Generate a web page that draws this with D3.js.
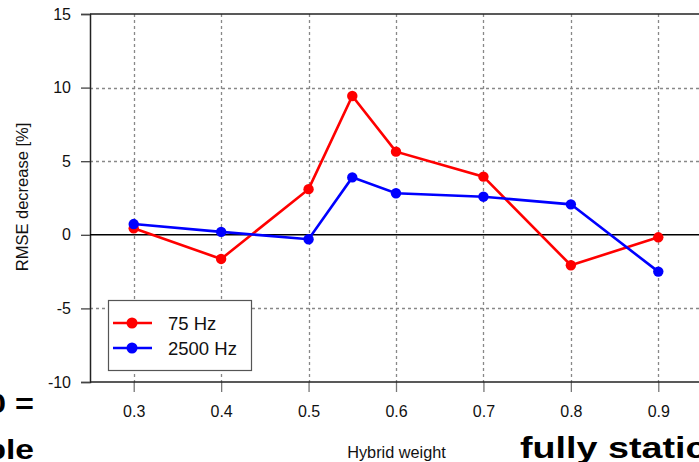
<!DOCTYPE html>
<html><head><meta charset="utf-8">
<script src="https://cdn.jsdelivr.net/npm/d3@7"></script>
<style>body{margin:0;background:#fff}svg{display:block;font-family:"Liberation Sans",Arial,sans-serif}</style>
</head><body><div id="c"></div>
<script>
const weights = [0.3, 0.4, 0.5, 0.55, 0.6, 0.7, 0.8, 0.9];
const hz75 = [0.44, -1.64, 3.1, 9.43, 5.65, 3.95, -2.07, -0.17];
const hz2500 = [0.73, 0.2, -0.3, 3.9, 2.82, 2.59, 2.07, -2.5];
const seriesNames = ["75 Hz", "2500 Hz"];
const seriesColors = ["#ff0000", "#0000ff"];
const xTicks = [0.3, 0.4, 0.5, 0.6, 0.7, 0.8, 0.9];
const yTicks = [-10, -5, 0, 5, 10, 15];
const yTickLabels = ["-10", "-5", "0", "5", "10", "15"];

const W = 699, H = 462;
const svg = d3.select("#c").append("svg").attr("width", W).attr("height", H);
const L = 90, R = 702, T = 14, B = 382;
const x = d3.scaleLinear().domain([0.25, 0.95]).range([L, R]);
const y = d3.scaleLinear().domain([-10, 15]).range([B, T]);

// grid
const g = svg.append("g");
g.selectAll(".vg").data(xTicks).join("line")
  .attr("x1", d => Math.round(x(d)) + 0.5).attr("x2", d => Math.round(x(d)) + 0.5)
  .attr("y1", T).attr("y2", B)
  .attr("stroke", "#888").attr("stroke-width", 1.3).attr("stroke-dasharray", "3,3");
g.selectAll(".hg").data(yTicks.filter(d => d !== 0 && d !== 15 && d !== -10)).join("line")
  .attr("x1", L).attr("x2", W).attr("y1", d => Math.round(y(d)) + 0.5).attr("y2", d => Math.round(y(d)) + 0.5)
  .attr("stroke", "#888").attr("stroke-width", 1.3).attr("stroke-dasharray", "3,3");

// y axis
const yAxis = d3.axisLeft(y).tickValues(yTicks).tickSize(9).tickPadding(10)
  .tickFormat((d, i) => yTickLabels[i]);
const ya = svg.append("g").attr("transform", `translate(${L},0)`).call(yAxis);
ya.select(".domain").attr("stroke", "#222").attr("stroke-width", 1.5);
ya.selectAll(".tick line").attr("stroke", "#444").attr("stroke-width", 1.3);
ya.selectAll("text").attr("font-size", 16).attr("fill", "#111").attr("font-family", "Liberation Sans, Arial, sans-serif");

// x axis
const xAxis = d3.axisBottom(x).tickValues(xTicks).tickSize(10).tickPadding(14).tickFormat(d3.format(".1f"));
const xa = svg.append("g").attr("transform", `translate(0,${B})`).call(xAxis);
xa.select(".domain").remove();
xa.selectAll(".tick line").attr("stroke", "#777").attr("stroke-width", 1.3);
xa.selectAll("text").attr("font-size", 16).attr("fill", "#111").attr("font-family", "Liberation Sans, Arial, sans-serif");

// frame lines
svg.append("line").attr("x1", L).attr("x2", W).attr("y1", y(15)).attr("y2", y(15)).attr("stroke", "#222").attr("stroke-width", 1.5);
svg.append("line").attr("x1", L).attr("x2", W).attr("y1", y(-10)).attr("y2", y(-10)).attr("stroke", "#222").attr("stroke-width", 1.5);
svg.append("line").attr("x1", L).attr("x2", W).attr("y1", y(0)).attr("y2", y(0)).attr("stroke", "#000").attr("stroke-width", 1.6);

// series
const allSeries = [hz75, hz2500];
const line = d3.line().x((d, i) => x(weights[i])).y(d => y(d));
allSeries.forEach((vals, si) => {
  svg.append("path").datum(vals).attr("d", line).attr("fill", "none")
    .attr("stroke", seriesColors[si]).attr("stroke-width", 2.6);
  svg.append("g").selectAll("circle").data(vals).join("circle")
    .attr("cx", (d, i) => x(weights[i])).attr("cy", d => y(d)).attr("r", 5.2)
    .attr("fill", seriesColors[si]);
});

// legend
const lg = svg.append("g");
lg.append("rect").attr("x", 108.5).attr("y", 300.5).attr("width", 143).attr("height", 70)
  .attr("fill", "#fff").attr("stroke", "#555").attr("stroke-width", 1.2);
seriesNames.forEach((n, i) => {
  const yy = 323 + i * 25;
  lg.append("line").attr("x1", 113).attr("x2", 152).attr("y1", yy).attr("y2", yy)
    .attr("stroke", seriesColors[i]).attr("stroke-width", 2.6);
  lg.append("circle").attr("cx", 132).attr("cy", yy).attr("r", 5.5).attr("fill", seriesColors[i]);
  lg.append("text").attr("x", 168).attr("y", yy + 6.5).attr("font-size", 18.5).attr("fill", "#111").text(n);
});

// axis titles
svg.append("text").attr("x", 396.5).attr("y", 458).attr("text-anchor", "middle").attr("font-size", 16.3).attr("fill", "#111").text("Hybrid weight");
svg.append("text").attr("transform", `translate(28,197) rotate(-90)`).attr("text-anchor", "middle")
  .attr("font-size", 16.5).attr("fill", "#111").text("RMSE decrease [%]");

// stray slide text (cut off by the image edges)
svg.append("text").attr("transform", "translate(34,413) scale(1.2,1)").attr("text-anchor", "end").attr("font-size", 27).attr("font-weight", "bold").attr("fill", "#000").text("0 =");
svg.append("text").attr("transform", "translate(34,459) scale(1.2,1)").attr("text-anchor", "end").attr("font-size", 28).attr("font-weight", "bold").attr("fill", "#000").text("ble");
svg.append("text").attr("transform", "translate(520,458) scale(1.3,1)").attr("font-size", 29).attr("font-weight", "bold").attr("fill", "#000").text("fully static");
</script></body></html>
